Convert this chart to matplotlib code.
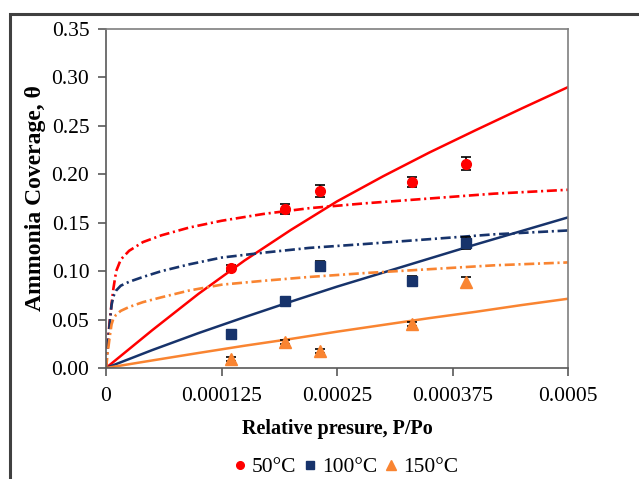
import matplotlib
matplotlib.use("Agg")
import matplotlib.pyplot as plt
from matplotlib.patches import Rectangle
from matplotlib.lines import Line2D

plt.rcParams['font.family'] = ['Liberation Serif', 'DejaVu Serif']

# Measured adsorption data (relative pressure, coverage, error)
p_meas = [0.000135, 0.000194, 0.000232, 0.000331, 0.000390]
theta_50 = [0.103, 0.164, 0.183, 0.192, 0.211]
err_50 = [0.003, 0.0055, 0.006, 0.0055, 0.0065]
theta_100 = [0.035, 0.069, 0.105, 0.090, 0.129]
err_100 = [0.002, 0.002, 0.005, 0.0045, 0.0065]
theta_150 = [0.009, 0.027, 0.018, 0.045, 0.089]
err_150 = [0.002, 0.002, 0.002, 0.002, 0.005]

# Model curves: solid (near-linear model) and dash-dot (steep isotherm model)
p_lin = [0.0, 0.00005, 0.0001, 0.00015, 0.0002, 0.00025, 0.0003, 0.00035,
         0.0004, 0.00045, 0.0005]
lin_50 = [0.0, 0.039, 0.0765, 0.111, 0.1425, 0.172, 0.198, 0.2225, 0.2455,
          0.268, 0.290]
lin_100 = [0.0, 0.0185, 0.036, 0.0525, 0.0685, 0.084, 0.0985, 0.113, 0.1275,
           0.1415, 0.1555]
lin_150 = [0.0, 0.0078, 0.0155, 0.023, 0.030, 0.0375, 0.0445, 0.0515, 0.058,
           0.065, 0.0715]

p_iso = [0.0, 0.000001, 0.000002, 0.000004, 0.000006, 0.000008, 0.000011,
         0.000016, 0.000025, 0.00004, 0.00006, 0.00009, 0.000125, 0.00017,
         0.00022, 0.00028, 0.00035, 0.00042, 0.0005]
iso_50 = [0.0, 0.015, 0.028, 0.048, 0.066, 0.082, 0.100, 0.112, 0.121, 0.130,
          0.137, 0.145, 0.152, 0.159, 0.165, 0.170, 0.175, 0.180, 0.184]
iso_100 = [0.0, 0.012, 0.024, 0.046, 0.065, 0.074, 0.080, 0.085, 0.089, 0.094,
           0.100, 0.107, 0.114, 0.119, 0.124, 0.128, 0.133, 0.138, 0.142]
iso_150 = [0.0, 0.008, 0.017, 0.032, 0.045, 0.051, 0.055, 0.059, 0.063, 0.068,
           0.073, 0.080, 0.086, 0.090, 0.094, 0.098, 0.102, 0.106, 0.109]

labels = ['50°C', '100°C', '150°C']
colors = ['#FF0000', '#17336B', '#F98431']
markers = ['o', 's', '^']
msizes = [7, 6.5, 8.5]

x_ticks = [0, 0.000125, 0.00025, 0.000375, 0.0005]
x_ticklabels = ['0', '0.000125', '0.00025', '0.000375', '0.0005']
y_ticks = [0.0, 0.05, 0.10, 0.15, 0.20, 0.25, 0.30, 0.35]

fig = plt.figure(figsize=(6.39, 4.79), dpi=100)
ax = fig.add_axes([106 / 639, 1 - 368 / 479, 462 / 639, 339 / 479])

# outer frame around the figure
fig.patches.append(Rectangle((10 / 639, -0.1), 1.2, 0.1 + (479 - 14) / 479,
                             transform=fig.transFigure, fill=False,
                             edgecolor='#404040', linewidth=2.2))

for lin, c in zip([lin_50, lin_100, lin_150], colors):
    ax.plot(p_lin, lin, color=c, lw=1.8, zorder=2)

for iso, c in zip([iso_50, iso_100, iso_150], colors):
    ax.plot(p_iso, iso, color=c, lw=1.9, zorder=2,
            dashes=(3.8, 1.4, 0.8, 1.4))

for th, er, c, m, ms in zip([theta_50, theta_100, theta_150],
                            [err_50, err_100, err_150], colors, markers, msizes):
    ax.errorbar(p_meas, th, yerr=er, fmt='none', ecolor='black',
                elinewidth=1.2, capsize=3.6, capthick=1.2, zorder=3)
    ax.plot(p_meas, th, linestyle='none', marker=m, markersize=ms,
            color=c, zorder=4)

ax.set_xlim(0, 0.0005)
ax.set_ylim(0, 0.35)
ax.set_xticks(x_ticks)
ax.set_xticklabels(x_ticklabels)
ax.set_yticks(y_ticks)
ax.set_yticklabels([f'{v:.2f}' for v in y_ticks])
ax.tick_params(axis='both', direction='out', length=6, width=1.2,
               color='#595959', labelsize=15.5)
ax.tick_params(axis='x', pad=8)
ax.tick_params(axis='y', pad=6)

for side, sp in ax.spines.items():
    sp.set_color('#7f7f7f' if side in ('top', 'right') else '#595959')
    sp.set_linewidth(1.2)

ax.set_xlabel('Relative presure, P/Po', fontsize=14.5, fontweight='bold',
              labelpad=9)
ax.set_ylabel('Ammonia Coverage, θ', fontsize=17, fontweight='bold',
              labelpad=4)

handles = [Line2D([], [], linestyle='none', marker=m, color=c, markersize=s)
           for m, c, s in zip(markers, colors, [5.5, 5.5, 7])]
fig.legend(handles, labels, loc='center', bbox_to_anchor=(346 / 639, 1 - 467 / 479),
           ncol=3, frameon=False, fontsize=15.5, handlelength=0.6,
           handletextpad=0.25, columnspacing=0.35, borderaxespad=0)

fig.savefig('out.png', dpi=100)
